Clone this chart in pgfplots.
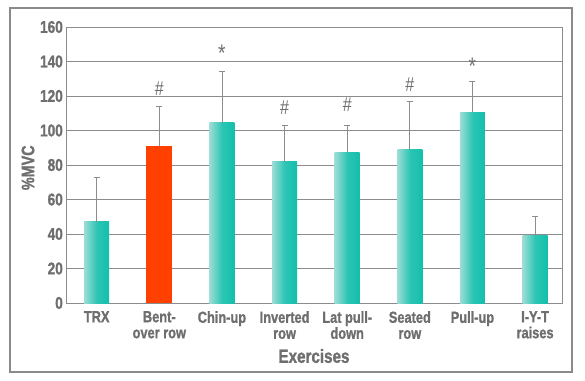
\documentclass[border=0pt]{standalone}
\usepackage{pgfplots}
\pgfplotsset{compat=1.18}
\usepackage{fontspec}
\setmainfont{Liberation Sans}[BoldFont={Liberation Sans Bold}, BoldFeatures={FakeBold=1.2}, FakeStretch=0.8]
\definecolor{txt}{HTML}{6E6E6E}
\definecolor{gridc}{HTML}{8C8C8C}
\definecolor{frame}{HTML}{8A8A8A}
\definecolor{teal1}{HTML}{12BFAC}
\definecolor{teal2}{HTML}{9CDDD5}
\definecolor{redbar}{HTML}{FF4000}
\pgfplotsset{
  tbar/.style={ybar, bar width=25pt, draw=none, left color=teal2, right color=teal1, middle color=teal1!80!teal2,
    error bars/.cd, y dir=plus, y explicit,
    error bar style={gridc, line width=0.8pt},
    error mark options={gridc, mark size=3pt, rotate=90, line width=0.8pt}},
}
\begin{document}
\begin{tikzpicture}
\path[use as bounding box] (-66pt,-77pt) rectangle (519pt,303pt);
\draw[frame, line width=1.6pt] (-56pt,-69pt) rectangle (506pt,295pt);
\begin{axis}[
  at={(0,0)}, anchor=south west, scale only axis,
  width=496pt, height=276pt,
  xmin=-0.49, xmax=7.43, ymin=0, ymax=160,
  ytick={0,20,...,160},
  xtick={0,...,7},
  xticklabels={TRX, Bent-\\over row, Chin-up, Inverted\\row, Lat pull-\\down, Seated\\row, Pull-up, I-Y-T\\raises},
  /pgf/number format/assume math mode=true,
  xticklabel style={align=center, font=\bfseries\fontsize{16}{16}\selectfont, text=txt, inner sep=0pt, yshift=-8pt},
  yticklabel style={font=\bfseries\fontsize{17}{17}\selectfont, text=txt, inner xsep=0pt, xshift=-3pt},
  major tick length=0pt,
  ymajorgrids, grid style={gridc, line width=0.8pt},
  axis line style={gridc, line width=0.9pt},
  xlabel={Exercises},
  ylabel={\%MVC},
  xlabel style={at={(axis description cs:0.5,0)}, anchor=center, yshift=-53pt, font=\bfseries\fontsize{19}{19}\selectfont, text=txt},
  ylabel style={at={(axis description cs:-0.0766,0.49)}, anchor=center, font=\bfseries\fontsize{18}{18}\selectfont, text=txt},
  clip=false,
]
\addplot[tbar] coordinates {(0,47) +- (0,25.6)};
\addplot[ybar, bar width=26pt, draw=none, fill=redbar,
  error bars/.cd, y dir=plus, y explicit,
  error bar style={gridc, line width=0.8pt},
  error mark options={gridc, mark size=3pt, rotate=90, line width=0.8pt}]
  coordinates {(1,91) +- (0,23)};
\addplot[tbar] coordinates {(2,104.5) +- (0,29.5)};
\addplot[tbar] coordinates {(3,82) +- (0,21)};
\addplot[tbar] coordinates {(4,87.5) +- (0,15.2)};
\addplot[tbar] coordinates {(5,89) +- (0,28)};
\addplot[tbar] coordinates {(6,110.5) +- (0,17.8)};
\addplot[tbar] coordinates {(7,39) +- (0,11.4)};
\addplot[draw=none, mark=none, nodes near coords, point meta=explicit symbolic,
  nodes near coords style={anchor=center, font=\fontsize{20}{20}\selectfont, text=txt}]
  coordinates {
  (1,124.2) [\#]
  (3,113.2) [\#]
  (4,114.8) [\#]
  (5,126.4) [\#]
  };
\addplot[draw=none, mark=none, nodes near coords, point meta=explicit symbolic,
  nodes near coords style={anchor=center, font=\fontsize{24}{24}\selectfont, text=txt}]
  coordinates {
  (2,145) [*]
  (6,137) [*]
  };
\end{axis}
\end{tikzpicture}
\end{document}
